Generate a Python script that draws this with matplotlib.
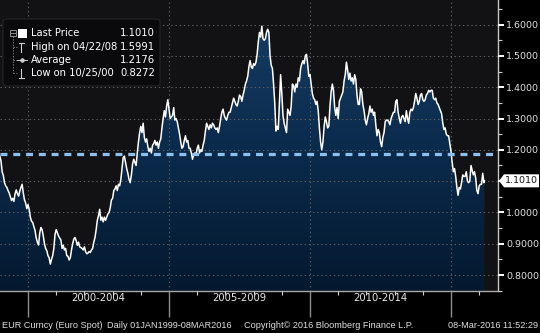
import numpy as np
import matplotlib
matplotlib.use('Agg')
import matplotlib.pyplot as plt
from matplotlib.colors import LinearSegmentedColormap
from matplotlib.patches import FancyBboxPatch, Rectangle, Polygon
from matplotlib.lines import Line2D
from matplotlib.ticker import FixedLocator

# EUR/USD spot: two values per month (1st and 16th)
eur_1999 = [1.180, 1.165, 1.130, 1.118, 1.095, 1.085, 1.080, 1.070, 1.062, 1.050, 1.038, 1.045,
            1.035, 1.060, 1.072, 1.060, 1.052, 1.068, 1.080, 1.090, 1.062, 1.040, 1.030, 1.012]
eur_2000 = [1.025, 1.010, 0.985, 0.972, 0.968, 0.955, 0.942, 0.918, 0.905, 0.896, 0.935, 0.952,
            0.945, 0.925, 0.900, 0.885, 0.878, 0.862, 0.855, 0.835, 0.850, 0.862, 0.885, 0.930]
eur_2001 = [0.945, 0.935, 0.925, 0.918, 0.912, 0.885, 0.895, 0.880, 0.885, 0.862, 0.860, 0.848,
            0.855, 0.880, 0.900, 0.915, 0.920, 0.910, 0.895, 0.905, 0.890, 0.888, 0.885, 0.880]
eur_2002 = [0.890, 0.875, 0.868, 0.870, 0.875, 0.872, 0.880, 0.885, 0.905, 0.920, 0.945, 0.975,
            0.990, 1.010, 0.975, 0.985, 0.970, 0.985, 0.975, 0.985, 0.995, 1.000, 1.015, 1.040]
eur_2003 = [1.045, 1.070, 1.075, 1.085, 1.070, 1.090, 1.085, 1.105, 1.140, 1.175, 1.180, 1.160,
            1.140, 1.125, 1.105, 1.095, 1.120, 1.155, 1.170, 1.160, 1.150, 1.190, 1.225, 1.255]
eur_2004 = [1.275, 1.255, 1.285, 1.240, 1.225, 1.235, 1.210, 1.195, 1.205, 1.190, 1.215, 1.220,
            1.230, 1.215, 1.225, 1.205, 1.225, 1.235, 1.270, 1.300, 1.325, 1.305, 1.340, 1.360]
eur_2005 = [1.330, 1.300, 1.305, 1.310, 1.335, 1.295, 1.300, 1.290, 1.270, 1.250, 1.225, 1.205,
            1.210, 1.230, 1.245, 1.225, 1.230, 1.205, 1.205, 1.190, 1.170, 1.185, 1.190, 1.185]
eur_2006 = [1.205, 1.215, 1.190, 1.200, 1.195, 1.215, 1.230, 1.260, 1.285, 1.275, 1.265, 1.280,
            1.270, 1.285, 1.280, 1.270, 1.265, 1.270, 1.255, 1.275, 1.300, 1.320, 1.330, 1.310]
eur_2007 = [1.300, 1.295, 1.310, 1.320, 1.320, 1.335, 1.350, 1.365, 1.355, 1.345, 1.340, 1.355,
            1.375, 1.370, 1.355, 1.375, 1.390, 1.410, 1.420, 1.435, 1.465, 1.485, 1.465, 1.460]
eur_2008 = [1.475, 1.470, 1.480, 1.505, 1.545, 1.575, 1.560, 1.595, 1.555, 1.550, 1.555, 1.575,
            1.585, 1.575, 1.500, 1.470, 1.460, 1.410, 1.350, 1.260, 1.275, 1.265, 1.355, 1.440]
eur_2009 = [1.380, 1.310, 1.285, 1.270, 1.255, 1.330, 1.320, 1.310, 1.340, 1.410, 1.405, 1.385,
            1.410, 1.400, 1.430, 1.420, 1.460, 1.475, 1.485, 1.475, 1.500, 1.505, 1.475, 1.435]
eur_2010 = [1.440, 1.410, 1.380, 1.365, 1.360, 1.345, 1.355, 1.325, 1.270, 1.225, 1.200, 1.225,
            1.275, 1.305, 1.290, 1.270, 1.275, 1.340, 1.385, 1.410, 1.390, 1.335, 1.310, 1.335]
eur_2011 = [1.300, 1.355, 1.365, 1.375, 1.385, 1.420, 1.440, 1.480, 1.455, 1.425, 1.445, 1.420,
            1.430, 1.410, 1.440, 1.425, 1.375, 1.345, 1.345, 1.395, 1.385, 1.345, 1.325, 1.295]
eur_2012 = [1.280, 1.300, 1.315, 1.340, 1.320, 1.330, 1.310, 1.320, 1.280, 1.245, 1.265, 1.255,
            1.225, 1.210, 1.240, 1.255, 1.290, 1.295, 1.295, 1.290, 1.280, 1.300, 1.310, 1.320]
eur_2013 = [1.320, 1.355, 1.360, 1.320, 1.300, 1.285, 1.305, 1.310, 1.300, 1.290, 1.325, 1.300,
            1.285, 1.320, 1.330, 1.325, 1.335, 1.355, 1.380, 1.365, 1.345, 1.355, 1.375, 1.380]
eur_2014 = [1.360, 1.355, 1.360, 1.375, 1.380, 1.390, 1.385, 1.390, 1.390, 1.365, 1.360, 1.365,
            1.350, 1.345, 1.335, 1.325, 1.315, 1.285, 1.265, 1.270, 1.250, 1.245, 1.245, 1.220]
eur_2015 = [1.195, 1.160, 1.130, 1.140, 1.115, 1.080, 1.055, 1.080, 1.075, 1.095, 1.120, 1.115,
            1.115, 1.130, 1.100, 1.095, 1.100, 1.150, 1.135, 1.120, 1.130, 1.110, 1.070, 1.060]
eur_2016 = [1.085, 1.090, 1.090, 1.125, 1.095]
last_price = 1.1010
last_date = 2016 + 67 / 366  # 08-Mar-2016

avg_level = 1.186  # where the dashed average line sits on the chart

legend_labels = ['Last Price', 'High on 04/22/08', 'Average', 'Low on 10/25/00']
legend_values = ['1.1010', '1.5991', '1.2176', '0.8272']
period_labels = ['2000-2004', '2005-2009', '2010-2014']
period_mid = [2002.5, 2007.5, 2012.5]
y_ticks = [0.8, 0.9, 1.0, 1.1, 1.2, 1.3, 1.4, 1.5, 1.6]
footer = ['EUR Curncy (Euro Spot)', 'Daily 01JAN1999-08MAR2016',
          'Copyright\u00a9 2016 Bloomberg Finance L.P.', '08-Mar-2016 11:52:29']

series = [eur_1999, eur_2000, eur_2001, eur_2002, eur_2003, eur_2004, eur_2005, eur_2006,
          eur_2007, eur_2008, eur_2009, eur_2010, eur_2011, eur_2012, eur_2013, eur_2014,
          eur_2015, eur_2016]
x, y = [], []
for yr, vals in zip(range(1999, 2017), series):
    for i, v in enumerate(vals):
        x.append(yr + i / 24)
        y.append(v)
x.append(last_date)
y.append(last_price)
x = np.array(x)
y = np.array(y)

W, H = 540, 333
XMIN, XMAX = 1999.007, 2016.656
YMIN, YMAX = 0.75, 1.6786


def fp(xp, yp):
    # pixel position (from top-left) -> figure fraction
    return xp / W, 1 - yp / H


fig = plt.figure(figsize=(W / 100, H / 100), dpi=100, facecolor='black')
ax = fig.add_axes([0, 42.3 / H, 497.7 / W, 290.7 / H])
ax.set_facecolor('#121215')

# gradient fill under the price line
fill = ax.fill_between(x, y, YMIN, color='none', lw=0)
cmap = LinearSegmentedColormap.from_list('bbg', ['#04192f', '#0b2b4d', '#173f66'])
grad = ax.imshow(np.linspace(1, 0, 256).reshape(-1, 1), cmap=cmap, aspect='auto',
                 extent=[XMIN, XMAX, YMIN, YMAX], zorder=1)
grad.set_clip_path(fill.get_paths()[0], transform=ax.transData)

ax.plot(x, y, color='white', lw=1.1, zorder=3)

plt.rcParams['lines.scale_dashes'] = False
ax.axhline(avg_level, color='#8ec0ee', lw=2.3, dashes=(5, 4.2), zorder=4)

ax.set_xlim(XMIN, XMAX)
ax.set_ylim(YMIN, YMAX)

# axes / ticks
for s in ['top', 'left']:
    ax.spines[s].set_visible(False)
ax.spines['right'].set_color('#c8c8c8')
ax.spines['bottom'].set_color('#a8a8a8')
ax.spines['right'].set_linewidth(1.0)
ax.spines['bottom'].set_linewidth(1.0)

ax.yaxis.tick_right()
ax.set_yticks(y_ticks)
ax.set_yticklabels(['%.4f' % v for v in y_ticks])
ax.yaxis.set_minor_locator(FixedLocator([v + 0.05 for v in [0.7] + y_ticks]))
ax.tick_params(axis='y', which='major', direction='out', length=4, width=1.4,
               color='white', labelcolor='#e2e2e2', labelsize=6.8, pad=2)
ax.tick_params(axis='y', which='minor', direction='out', length=3, width=0.8, color='#d0d0d0')

ax.set_xticks([2000, 2005, 2010, 2015])
ax.set_xticklabels([])
ax.xaxis.set_minor_locator(FixedLocator([2001, 2002, 2003, 2004, 2006, 2007, 2008, 2009,
                                         2011, 2012, 2013, 2014, 2016]))
ax.tick_params(axis='x', which='major', direction='out', length=19, width=1.0, color='#8c8c8c')
ax.tick_params(axis='x', which='minor', direction='out', length=3, width=0.8, color='#d0d0d0')

ax.grid(True, which='major', linestyle=(0, (1, 2)), color='#5e5e5e', lw=0.8, zorder=2)
ax.set_axisbelow(False)

# period labels under the axis
for lab, xm in zip(period_labels, period_mid):
    ax.text(xm, -7.3 / 290.7, lab, transform=ax.get_xaxis_transform(), ha='center', va='center',
            color='#e6e6e6', fontsize=7.2)

# footer
ff = dict(color='#dedede', fontsize=6.6, va='center', family='Liberation Sans')
fig.text(*fp(2, 325), footer[0], ha='left', **ff)
fig.text(*fp(107, 325), footer[1], ha='left', **ff)
fig.text(*fp(244, 325), footer[2], ha='left', **ff)
fig.text(*fp(538, 325), footer[3], ha='right', **ff)

# legend box
bx, by = fp(3, 86)
fig.patches.append(FancyBboxPatch((bx, by), 157 / W, 67 / H, transform=fig.transFigure,
                                  boxstyle='round,pad=0,rounding_size=0.008',
                                  fc='#0a0a0c', ec='#242428', lw=0.8, zorder=5))
rows_y = [33, 47, 60, 73]
for lab, val, ry in zip(legend_labels, legend_values, rows_y):
    fig.text(*fp(31, ry), lab, color='white', fontsize=7.2, va='center', ha='left', zorder=6)
    fig.text(*fp(155, ry), val, color='white', fontsize=7.2, va='center', ha='right', zorder=6)


def fig_line(xs, ys, **kw):
    pts = [fp(a, b) for a, b in zip(xs, ys)]
    fig.lines.append(Line2D([p[0] for p in pts], [p[1] for p in pts],
                            transform=fig.transFigure, zorder=6, **kw))


icon = '#cfcfcf'
# tree connectors
fig_line([12.5, 12.5], [36, 73], color='#8a8a8a', lw=0.6, linestyle=(0, (1, 1)))
for ry in rows_y[1:]:
    fig_line([12.5, 17], [ry, ry], color='#8a8a8a', lw=0.6, linestyle=(0, (1, 1)))
# collapse box
cx, cy = fp(9.5, 36)
fig.patches.append(Rectangle((cx, cy), 6 / W, 6 / H, transform=fig.transFigure,
                             fc='none', ec='#a0a0a0', lw=0.6, zorder=6))
fig_line([10.5, 14.5], [33, 33], color='#a0a0a0', lw=0.6)
# last price square
sx, sy = fp(18, 37.5)
fig.patches.append(Rectangle((sx, sy), 9 / W, 9 / H, transform=fig.transFigure,
                             fc='white', ec='none', zorder=6))
# high marker
fig_line([18.5, 23.5], [42.5, 42.5], color=icon, lw=0.8)
fig_line([21, 21], [42.5, 51.5], color=icon, lw=0.8)
# average marker
fig_line([17, 27], [60, 60], color=icon, lw=0.7)
fig_line([22], [60], color=icon, lw=0, marker='o', markersize=2.2)
# low marker
fig_line([21, 21], [68.5, 77.5], color=icon, lw=0.8)
fig_line([18.5, 23.5], [77.5, 77.5], color=icon, lw=0.8)

# last price tag on the axis
tag_y = H - ax.transData.transform((last_date, last_price))[1]
tag = [fp(499, tag_y), fp(504, tag_y - 6.5), fp(539, tag_y - 6.5),
       fp(539, tag_y + 6.5), fp(504, tag_y + 6.5)]
fig.patches.append(Polygon(tag, closed=True, transform=fig.transFigure,
                           fc='white', ec='none', zorder=6))
fig.text(*fp(521.5, tag_y), '%.4f' % last_price, color='#111111', fontsize=6.8,
         va='center', ha='center', zorder=7)

fig.savefig('out.png', dpi=100, facecolor='black')
